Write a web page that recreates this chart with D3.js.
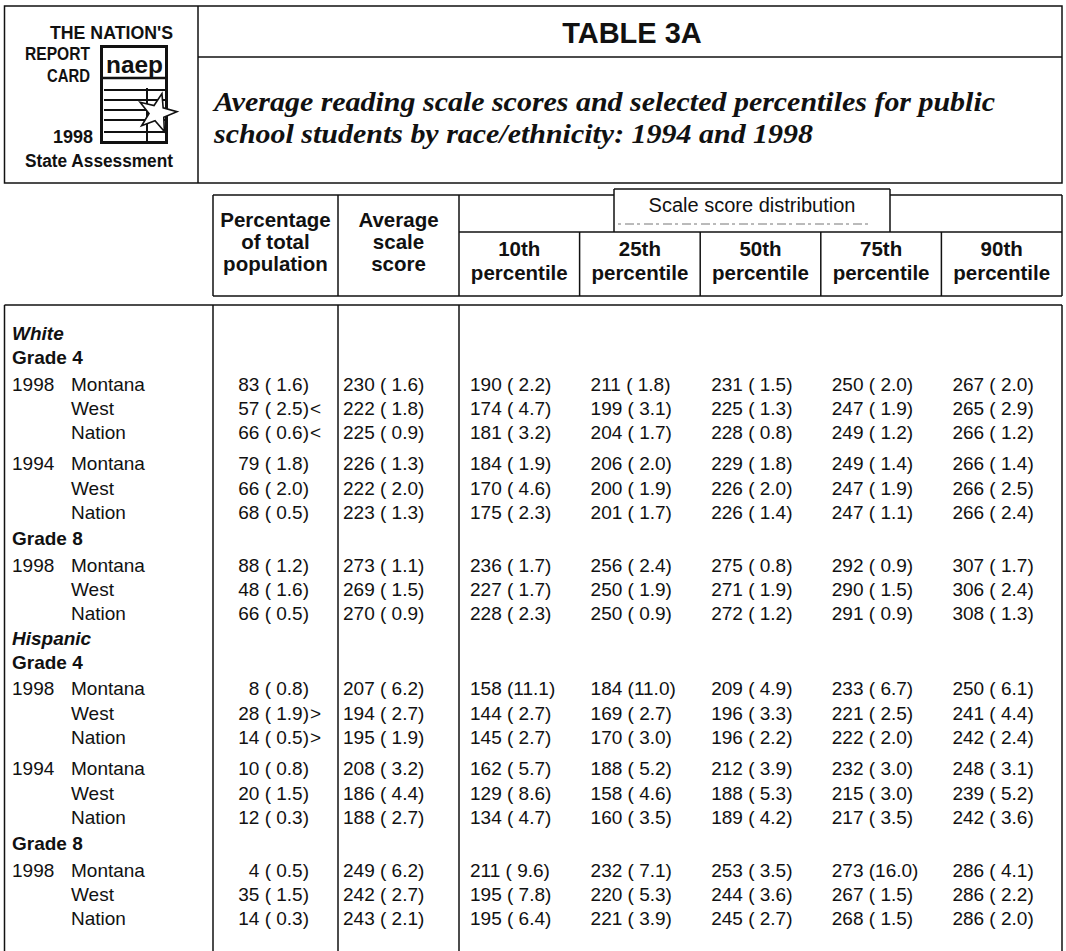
<!DOCTYPE html>
<html><head><meta charset="utf-8">
<script src="https://cdn.jsdelivr.net/npm/d3@7"></script>
<style>body{margin:0;background:#fff}svg{display:block}</style>
</head><body>
<svg id="c" width="1066" height="951"></svg>
<script>
// ---------- data ----------
const titleText = "TABLE 3A";
const subtitleLines = ["Average reading scale scores and selected percentiles for public",
                       "school students by race/ethnicity: 1994 and 1998"];
const logoLines = ["THE NATION'S","REPORT","CARD","1998","State Assessment"];
const races = ["White","Hispanic"];
const grades = ["Grade 4","Grade 8"];
const years = ["1998","1994"];
const places = ["Montana","West","Nation"];
const colHeadPct = ["Percentage","of total","population"];
const colHeadAvg = ["Average","scale","score"];
const spanHead = "Scale score distribution";
const percentileLabels = ["10th","25th","50th","75th","90th"];
const percentileWord = "percentile";

const pctTotal   = [83,57,66,79,66,68,88,48,66, 8,28,14,10,20,12,4,35,14];
const pctTotalSE = [1.6,2.5,0.6,1.8,2.0,0.5,1.2,1.6,0.5, 0.8,1.9,0.5,0.8,1.5,0.3,0.5,1.5,0.3];
const pctFlag    = ["","<","<","","","","","","", "",">",">","","","","","",""];
const avgScore   = [230,222,225,226,222,223,273,269,270, 207,194,195,208,186,188,249,242,243];
const avgScoreSE = [1.6,1.8,0.9,1.3,2.0,1.3,1.1,1.5,0.9, 6.2,2.7,1.9,3.2,4.4,2.7,6.2,2.7,2.1];
const p10   = [190,174,181,184,170,175,236,227,228, 158,144,145,162,129,134,211,195,195];
const p10SE = [2.2,4.7,3.2,1.9,4.6,2.3,1.7,1.7,2.3, 11.1,2.7,2.7,5.7,8.6,4.7,9.6,7.8,6.4];
const p25   = [211,199,204,206,200,201,256,250,250, 184,169,170,188,158,160,232,220,221];
const p25SE = [1.8,3.1,1.7,2.0,1.9,1.7,2.4,1.9,0.9, 11.0,2.7,3.0,5.2,4.6,3.5,7.1,5.3,3.9];
const p50   = [231,225,228,229,226,226,275,271,272, 209,196,196,212,188,189,253,244,245];
const p50SE = [1.5,1.3,0.8,1.8,2.0,1.4,0.8,1.9,1.2, 4.9,3.3,2.2,3.9,5.3,4.2,3.5,3.6,2.7];
const p75   = [250,247,249,249,247,247,292,290,291, 233,221,222,232,215,217,273,267,268];
const p75SE = [2.0,1.9,1.2,1.4,1.9,1.1,0.9,1.5,0.9, 6.7,2.5,2.0,3.0,3.0,3.5,16.0,1.5,1.5];
const p90   = [267,265,266,266,266,266,307,306,308, 250,241,242,248,239,242,286,286,286];
const p90SE = [2.0,2.9,1.2,1.4,2.5,2.4,1.7,2.4,1.3, 6.1,4.4,2.4,3.1,5.2,3.6,4.1,2.2,2.0];

// ---------- layout ----------
const svg = d3.select("#c");
const ink = "#111";
const SANS = "'Liberation Sans', Arial, Helvetica, sans-serif";
const NARROW = "'Liberation Sans Narrow', 'Liberation Sans', Arial, sans-serif";
const SERIF = "'Liberation Serif', 'Times New Roman', serif";
const fs = 19;

function ln(x1,y1,x2,y2,w){
  svg.append("line").attr("x1",x1).attr("y1",y1).attr("x2",x2).attr("y2",y2)
    .attr("stroke",ink).attr("stroke-width",w||1.5);
}
function txt(s,x,y,opt){
  opt = opt||{};
  const t = svg.append("text").attr("x",x).attr("y",y).text(s)
    .attr("font-family",opt.family||SANS).attr("font-size",opt.size||fs)
    .attr("font-weight",opt.weight||"normal").attr("font-style",opt.style||"normal")
    .attr("text-anchor",opt.anchor||"start").attr("fill",ink);
  if(opt.len){ t.attr("textLength",opt.len).attr("lengthAdjust","spacingAndGlyphs"); }
  return t;
}

// ---- top header box ----
const L = 4.5, R = 1062;
svg.append("rect").attr("x",L).attr("y",6).attr("width",R-L).attr("height",177)
  .attr("fill","none").attr("stroke",ink).attr("stroke-width",1.5);
ln(198,6,198,183);
ln(198,57,R,57);
txt(titleText,632,43,{weight:"bold",size:29,anchor:"middle"});
txt(subtitleLines[0],214,111,{family:SERIF,weight:"bold",style:"italic",size:27,len:781});
txt(subtitleLines[1],214,143,{family:SERIF,weight:"bold",style:"italic",size:27,len:599});

// ---- logo ----
txt(logoLines[0],50,39,{family:NARROW,weight:"bold",size:18,len:123});
txt(logoLines[1],25,60,{family:NARROW,weight:"bold",size:18,len:65});
txt(logoLines[2],47,82,{family:NARROW,weight:"bold",size:18,len:43});
txt(logoLines[3],53,143,{family:NARROW,weight:"bold",size:18,len:40});
txt(logoLines[4],25,167,{family:NARROW,weight:"bold",size:18,len:148});
svg.append("rect").attr("x",101.5).attr("y",46.5).attr("width",65).attr("height",96)
  .attr("fill","none").attr("stroke",ink).attr("stroke-width",3);
txt("naep",106,73,{family:SANS,weight:"bold",size:24,len:57});
ln(103,78,166,78,2.5);
[90,100,110,120,132].forEach(y=>ln(104,y,165,y,2));
ln(147,88,147,141,2);
{
  const cx=157, cy=113, Ro=20, Ri=8;
  const pts = d3.range(10).map(i=>{
    const a = -Math.PI/2 + i*Math.PI/5 + 0.25;
    const r = i%2?Ri:Ro;
    return [cx+r*Math.cos(a), cy+r*Math.sin(a)];
  });
  svg.append("polygon").attr("points",pts.map(p=>p.join(",")).join(" "))
    .attr("fill","#fff").attr("stroke",ink).attr("stroke-width",1.6);
}

// ---- column geometry ----
const xDiv1 = 213, xDiv2 = 338, xDiv3 = 459;
const xBand = d3.scaleBand().domain(percentileLabels).range([xDiv3, R]);
const hTop = 195, hMid = 232, hBot = 296, dTop = 305, dBot = 951;

// column header
ln(xDiv1,hTop,R,hTop);
ln(xDiv1,hBot,R,hBot);
ln(xDiv3,hMid,R,hMid);
[xDiv1,xDiv2,xDiv3,R].forEach(x=>ln(x,hTop,x,hBot));
percentileLabels.slice(1).forEach(p=>ln(xBand(p),hMid,xBand(p),hBot));
// label box of the spanning head
svg.append("rect").attr("x",614).attr("y",189).attr("width",276).attr("height",36)
  .attr("fill","#fff").attr("stroke","none");
ln(614,189,890,189);
ln(614,189,614,hMid);
ln(890,189,890,hMid);
svg.append("line").attr("x1",618).attr("y1",224).attr("x2",872).attr("y2",224)
  .attr("stroke","#777").attr("stroke-width",1).attr("stroke-dasharray","3,4,9,3");
txt(spanHead,752,212,{size:20,anchor:"middle"});

const hb = [227,249,271];
colHeadPct.forEach((s,i)=>txt(s,(xDiv1+xDiv2)/2,hb[i],{weight:"bold",size:20.5,anchor:"middle"}));
colHeadAvg.forEach((s,i)=>txt(s,(xDiv2+xDiv3)/2,hb[i],{weight:"bold",size:20.5,anchor:"middle"}));
percentileLabels.forEach(p=>{
  const cx = xBand(p)+xBand.bandwidth()/2;
  txt(p,cx,256,{weight:"bold",size:20.5,anchor:"middle"});
  txt(percentileWord,cx,280,{weight:"bold",size:20.5,anchor:"middle"});
});

// data box frame
ln(L,dTop,R,dTop);
[L,xDiv1,xDiv2,xDiv3,R].forEach(x=>ln(x,dTop,x,dBot));

// ---- rows ----
const lines = [];
let u = 0, di = 0;
races.forEach((race,ri)=>{
  if(ri>0) u += 1;
  lines.push({kind:"race",text:race,u:u});
  grades.forEach((g,gi)=>{
    if(gi>0) u += 1.1; else u += 1;
    lines.push({kind:"grade",text:g,u:u});
    const ys = gi===0 ? years : [years[0]];
    ys.forEach((yr,yi)=>{
      places.forEach((pl,pi)=>{
        if(pi===0) u += (yi===0 ? 1.1 : 1.3); else u += 1;
        lines.push({kind:"data",year:pi===0?yr:"",place:pl,u:u,i:di++});
      });
    });
  });
});
const yScale = d3.scaleLinear().domain([0,1]).range([333,333+24.2]);
const base = d => yScale(d.u) + 0.355*fs;
const fmt = (v,se) => v + " (" + (se<10?" ":"") + se.toFixed(1) + ")";
const pcols = [[p10,p10SE],[p25,p25SE],[p50,p50SE],[p75,p75SE],[p90,p90SE]];

lines.forEach(d=>{
  const y = base(d);
  if(d.kind==="race"){ txt(d.text,12,y,{weight:"bold",style:"italic"}); return; }
  if(d.kind==="grade"){ txt(d.text,12,y,{weight:"bold"}); return; }
  if(d.year) txt(d.year,12,y);
  txt(d.place,71,y);
  txt(fmt(pctTotal[d.i],pctTotalSE[d.i]),309,y,{anchor:"end"});
  if(pctFlag[d.i]) txt(pctFlag[d.i],310,y);
  txt(fmt(avgScore[d.i],avgScoreSE[d.i]),xDiv2+5,y);
  pcols.forEach((c,k)=>txt(fmt(c[0][d.i],c[1][d.i]),xBand(percentileLabels[k])+11,y));
});
</script>
</body></html>
